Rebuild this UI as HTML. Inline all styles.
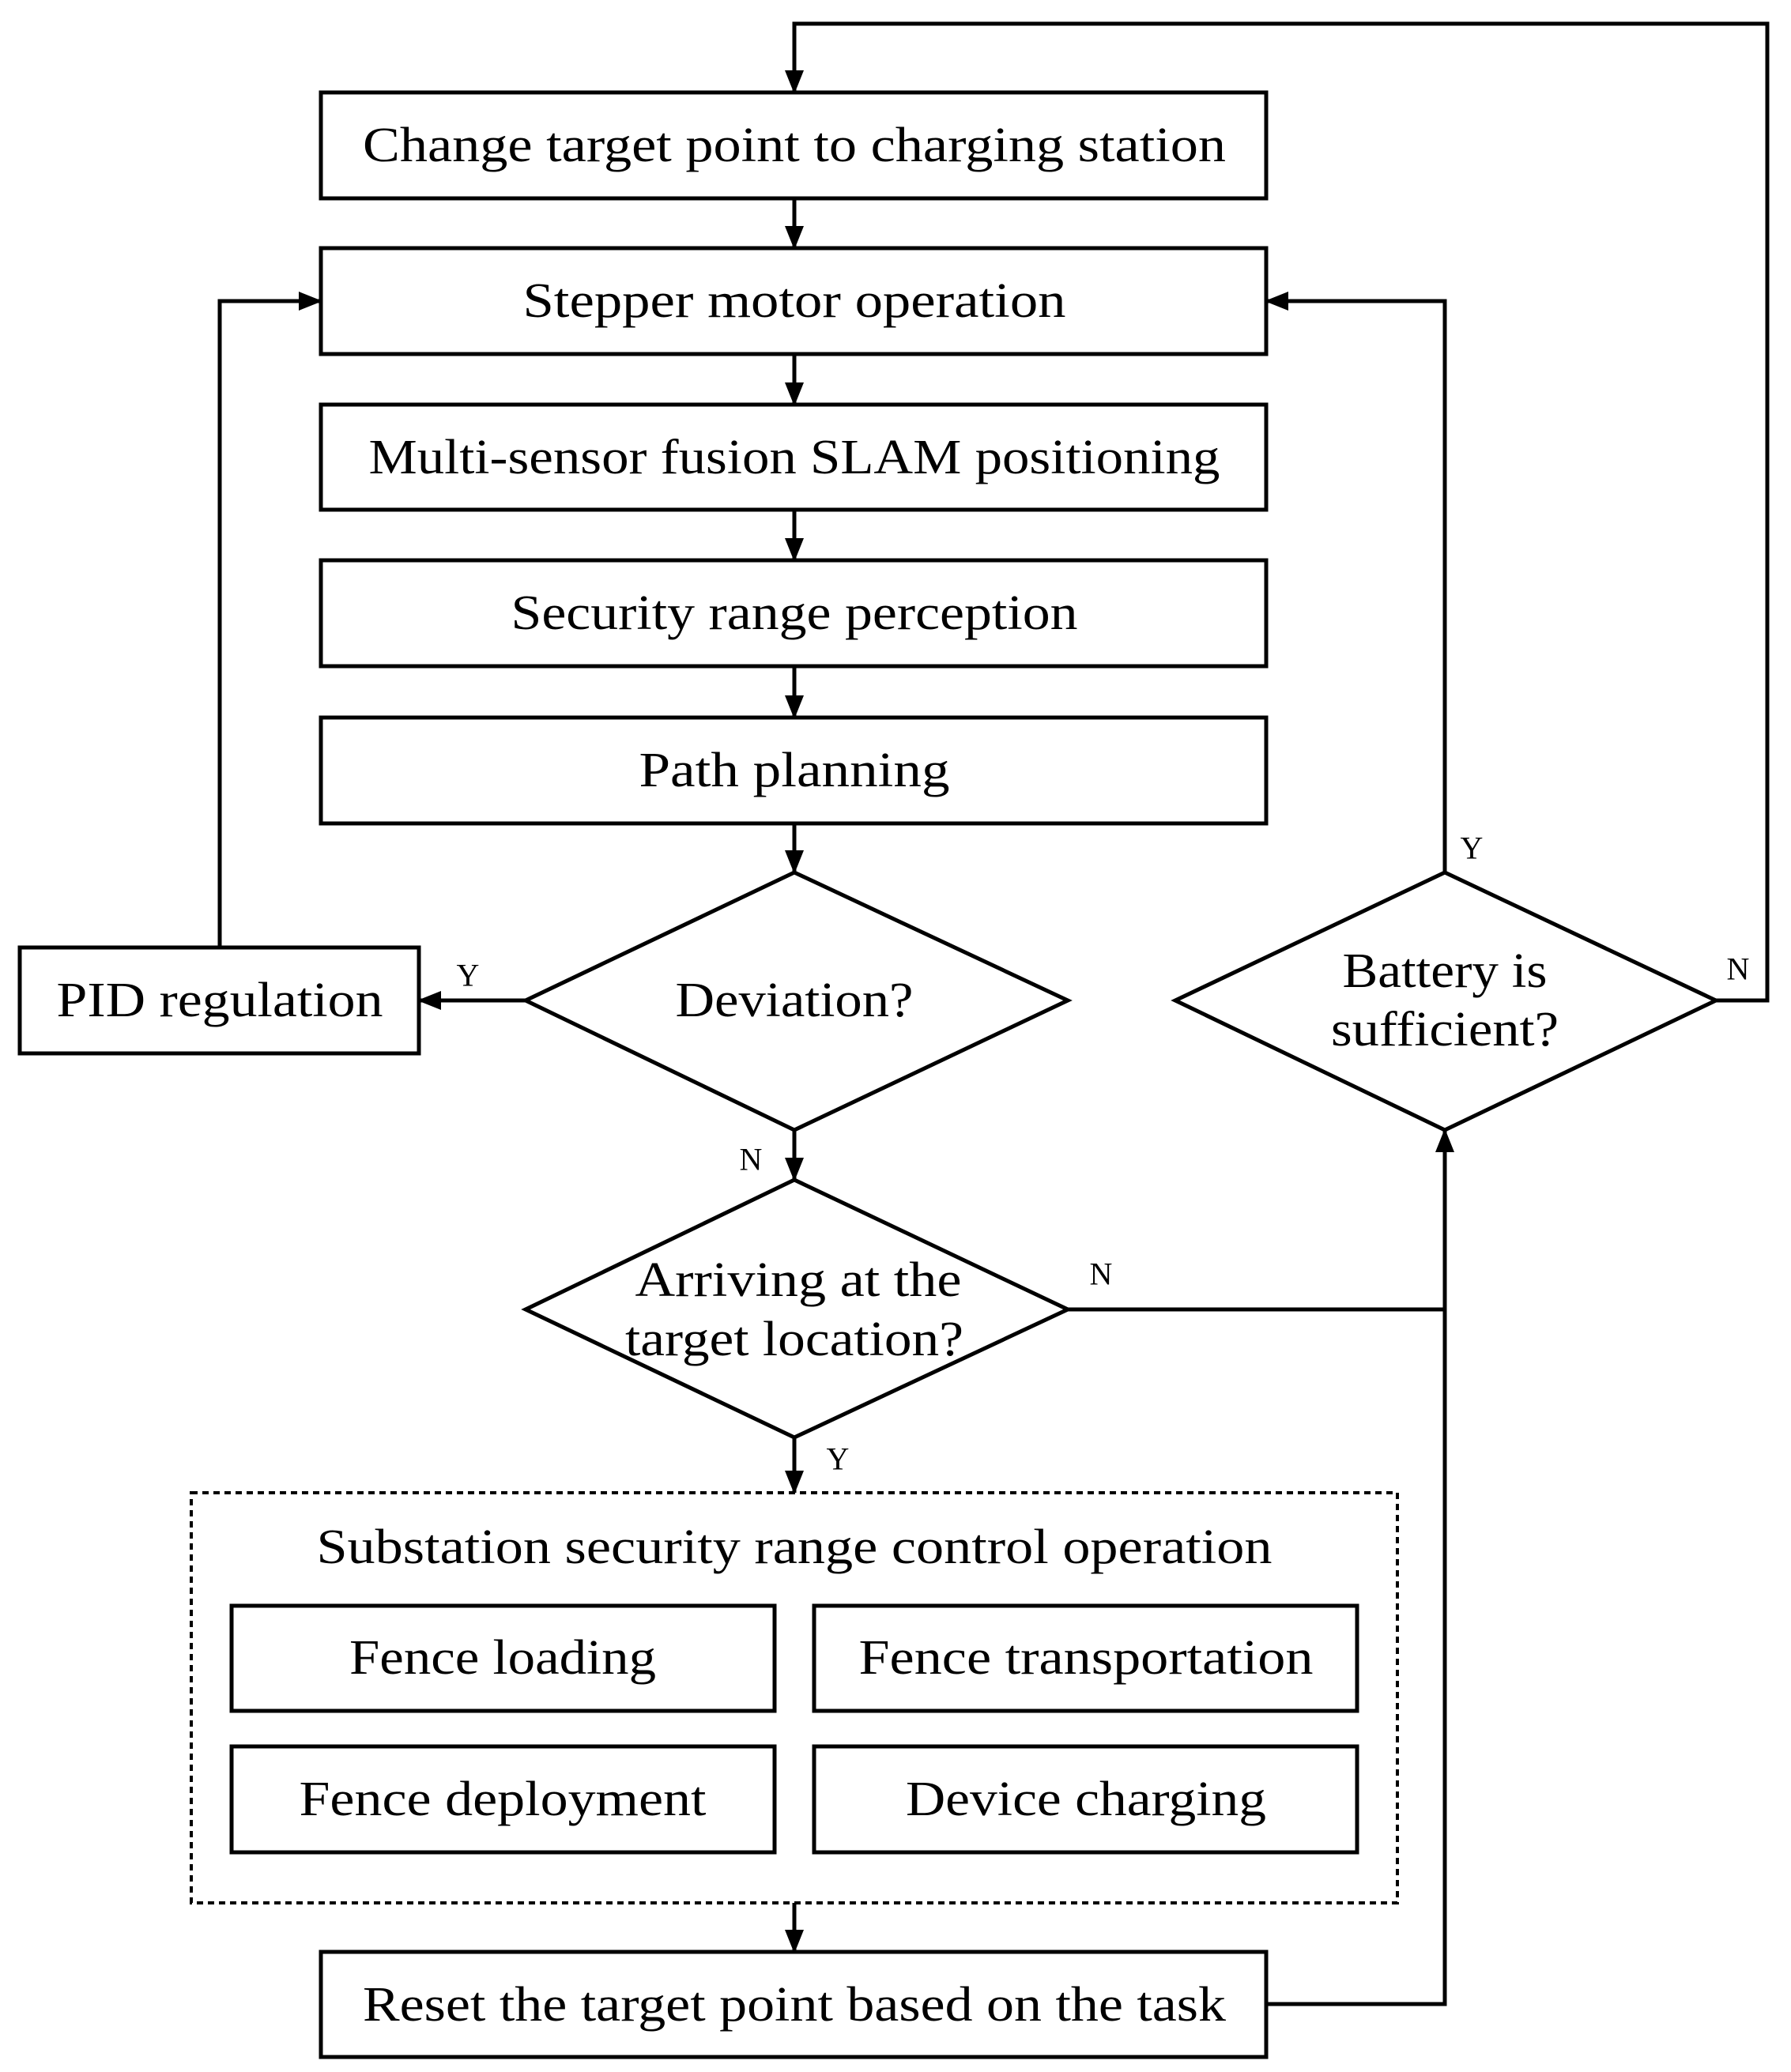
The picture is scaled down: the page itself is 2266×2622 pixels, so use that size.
<!DOCTYPE html>
<html><head><meta charset="utf-8"><style>
html,body{margin:0;padding:0;background:#fff}
svg{display:block}
text{font-family:"Liberation Serif",serif;fill:#000}
.t{font-size:62px;text-anchor:middle;dominant-baseline:central}
.l{font-size:40px;text-anchor:middle;dominant-baseline:central}
</style></head><body>
<svg width="2266" height="2622" viewBox="0 0 2266 2622" xmlns="http://www.w3.org/2000/svg">
<defs>
<marker id="b" markerWidth="30" markerHeight="30" refX="28" refY="15" orient="auto" markerUnits="userSpaceOnUse" viewBox="0 0 30 30"><path d="M0,3 L30,15 L0,27 z" fill="#000"/></marker></defs>
<g fill="none" stroke="#000" stroke-width="5">
<rect x="406" y="117" width="1196" height="134"/>
<rect x="406" y="314" width="1196" height="134"/>
<rect x="406" y="512" width="1196" height="133"/>
<rect x="406" y="709" width="1196" height="134"/>
<rect x="406" y="908" width="1196" height="134"/>
<rect x="25" y="1199" width="505" height="134"/>
<polygon points="1005,1104 1351,1266 1005,1430 665,1266"/>
<polygon points="1828,1104 2171,1266 1828,1430 1487,1266"/>
<polygon points="1005,1493 1351,1657 1005,1819 665,1657"/>
<rect x="242" y="1889" width="1526" height="519" stroke-dasharray="8,6" stroke-width="4"/>
<rect x="293" y="2032" width="687" height="133"/>
<rect x="1030" y="2032" width="687" height="133"/>
<rect x="293" y="2210" width="687" height="134"/>
<rect x="1030" y="2210" width="687" height="134"/>
<rect x="406" y="2470" width="1196" height="133"/>
</g>
<g fill="none" stroke="#000" stroke-width="5" marker-end="url(#b)">
<line x1="1005" y1="251" x2="1005" y2="314"/>
<line x1="1005" y1="448" x2="1005" y2="512"/>
<line x1="1005" y1="645" x2="1005" y2="709"/>
<line x1="1005" y1="843" x2="1005" y2="908"/>
<line x1="1005" y1="1042" x2="1005" y2="1104"/>
<line x1="665" y1="1266" x2="530" y2="1266"/>
<polyline points="278,1199 278,381 406,381"/>
<line x1="1005" y1="1430" x2="1005" y2="1493"/>
<line x1="1005" y1="1819" x2="1005" y2="1889"/>
<line x1="1005" y1="2408" x2="1005" y2="2470"/>
<polyline points="1828,1104 1828,381 1602,381"/>
<polyline points="2171,1266 2236,1266 2236,30 1005,30 1005,117"/>
<polyline points="1602,2536 1828,2536 1828,1430"/>
</g>
<line x1="1351" y1="1657" x2="1828" y2="1657" stroke="#000" stroke-width="5"/>
<text class="t" x="1005" y="184" textLength="1092" lengthAdjust="spacingAndGlyphs">Change target point to charging station</text>
<text class="t" x="1005" y="381" textLength="687" lengthAdjust="spacingAndGlyphs">Stepper motor operation</text>
<text class="t" x="1005" y="579" textLength="1077" lengthAdjust="spacingAndGlyphs">Multi-sensor fusion SLAM positioning</text>
<text class="t" x="1005" y="776" textLength="717" lengthAdjust="spacingAndGlyphs">Security range perception</text>
<text class="t" x="1005" y="975" textLength="393" lengthAdjust="spacingAndGlyphs">Path planning</text>
<text class="t" x="278" y="1266" textLength="413" lengthAdjust="spacingAndGlyphs">PID regulation</text>
<text class="t" x="1005" y="1266" textLength="301" lengthAdjust="spacingAndGlyphs">Deviation?</text>
<text class="t" x="1828" y="1229" textLength="259" lengthAdjust="spacingAndGlyphs">Battery is</text>
<text class="t" x="1828" y="1303" textLength="288" lengthAdjust="spacingAndGlyphs">sufficient?</text>
<text class="t" x="1010" y="1620" textLength="413" lengthAdjust="spacingAndGlyphs">Arriving at the</text>
<text class="t" x="1005" y="1695" textLength="428" lengthAdjust="spacingAndGlyphs">target location?</text>
<text class="t" x="1005" y="1958" textLength="1209" lengthAdjust="spacingAndGlyphs">Substation security range control operation</text>
<text class="t" x="636" y="2098" textLength="388" lengthAdjust="spacingAndGlyphs">Fence loading</text>
<text class="t" x="1374" y="2098" textLength="575" lengthAdjust="spacingAndGlyphs">Fence transportation</text>
<text class="t" x="636" y="2277" textLength="515" lengthAdjust="spacingAndGlyphs">Fence deployment</text>
<text class="t" x="1374" y="2277" textLength="456" lengthAdjust="spacingAndGlyphs">Device charging</text>
<text class="t" x="1005" y="2537" textLength="1092" lengthAdjust="spacingAndGlyphs">Reset the target point based on the task</text>
<text class="l" x="592" y="1234">Y</text>
<text class="l" x="950" y="1467">N</text>
<text class="l" x="1393" y="1612">N</text>
<text class="l" x="1060" y="1846">Y</text>
<text class="l" x="1862" y="1073">Y</text>
<text class="l" x="2199" y="1226">N</text>
</svg>
</body></html>
